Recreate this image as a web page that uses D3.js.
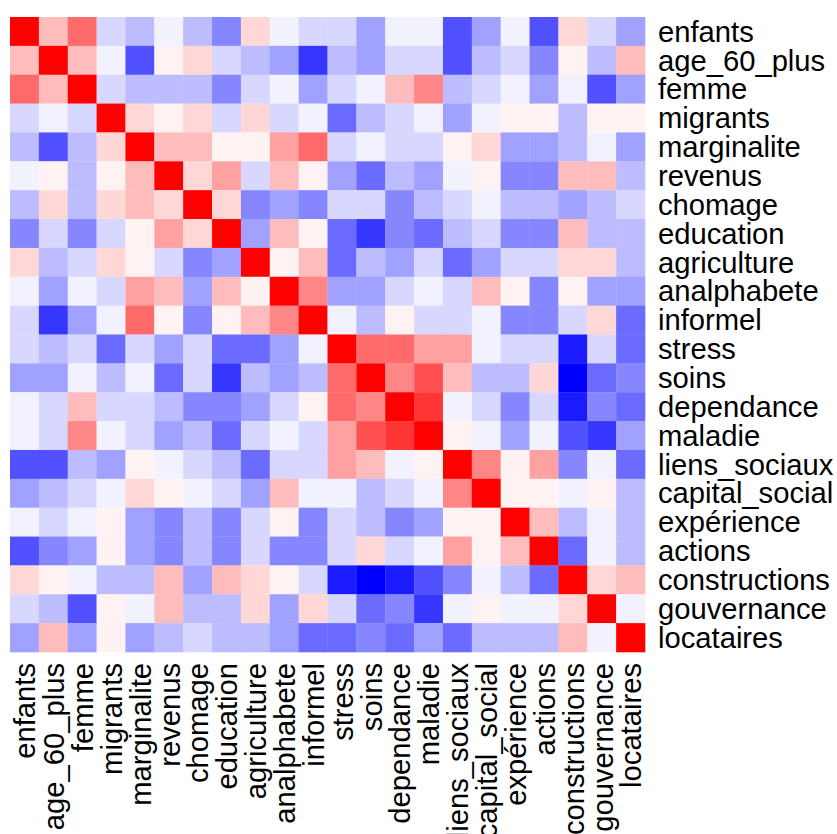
<!DOCTYPE html>
<html>
<head>
<meta charset="utf-8">
<script src="https://cdn.jsdelivr.net/npm/d3@7"></script>
<style>
  html, body { margin: 0; padding: 0; background: #fff; }
  svg { display: block; }
  .tick text { font-family: "Liberation Sans", Arial, sans-serif; fill: #000; }
</style>
</head>
<body>
<div id="chart"></div>
<script>
const variables = ["enfants","age_60_plus","femme","migrants","marginalite","revenus","chomage",
  "education","agriculture","analphabete","informel","stress","soins","dependance","maladie",
  "liens_sociaux","capital_social","expérience","actions","constructions","gouvernance","locataires"];

const corr = [
  [1, .25, .55, -.15, -.25, -.05, -.25, -.45, .15, -.05, -.15, -.15, -.35, -.05, -.05, -.65, -.35, -.05, -.65, .15, -.15, -.35],
  [.25, 1, .25, -.05, -.65, .05, .15, -.15, -.25, -.35, -.75, -.25, -.35, -.15, -.15, -.65, -.25, -.15, -.45, .05, -.25, .25],
  [.55, .25, 1, -.15, -.25, -.25, -.25, -.45, -.15, -.05, -.35, -.15, -.05, .25, .45, -.25, -.15, -.05, -.35, -.05, -.65, -.35],
  [-.15, -.05, -.15, 1, .15, .05, .15, -.15, .15, -.15, -.05, -.55, -.25, -.15, -.05, -.35, -.05, .05, .05, -.25, .05, .05],
  [-.25, -.65, -.25, .15, 1, .25, .25, .05, .05, .35, .55, -.15, -.05, -.15, -.15, .05, .15, -.35, -.35, -.25, -.05, -.35],
  [-.05, .05, -.25, .05, .25, 1, .15, .35, -.15, .25, .05, -.35, -.55, -.25, -.35, -.05, .05, -.45, -.45, .25, .25, -.25],
  [-.25, .15, -.25, .15, .25, .15, 1, .15, -.45, -.35, -.45, -.15, -.15, -.45, -.25, -.15, -.05, -.25, -.25, -.35, -.25, -.15],
  [-.45, -.15, -.45, -.15, .05, .35, .15, 1, -.35, .25, .05, -.55, -.75, -.45, -.55, -.25, -.15, -.45, -.45, .25, -.25, -.25],
  [.15, -.25, -.15, .15, .05, -.15, -.45, -.35, 1, .05, .25, -.55, -.25, -.35, -.15, -.55, -.35, -.15, -.15, .15, .15, -.25],
  [-.05, -.35, -.05, -.15, .35, .25, -.35, .25, .05, 1, .45, -.35, -.35, -.15, -.05, -.15, .25, .05, -.45, .05, -.35, -.35],
  [-.15, -.75, -.35, -.05, .55, .05, -.45, .05, .25, .45, 1, -.05, -.25, .05, -.15, -.15, -.05, -.45, -.45, -.15, .15, -.55],
  [-.15, -.25, -.15, -.55, -.15, -.35, -.15, -.55, -.55, -.35, -.05, 1, .55, .55, .35, .35, -.05, -.15, -.15, -.85, -.15, -.55],
  [-.35, -.35, -.05, -.25, -.05, -.55, -.15, -.75, -.25, -.35, -.25, .55, 1, .45, .65, .25, -.25, -.25, .15, -.95, -.55, -.45],
  [-.05, -.15, .25, -.15, -.15, -.25, -.45, -.45, -.35, -.15, .05, .55, .45, 1, .75, -.05, -.15, -.45, -.15, -.85, -.45, -.55],
  [-.05, -.15, .45, -.05, -.15, -.35, -.25, -.55, -.15, -.05, -.15, .35, .65, .75, 1, .05, -.05, -.35, -.05, -.65, -.75, -.35],
  [-.65, -.65, -.25, -.35, .05, -.05, -.15, -.25, -.55, -.15, -.15, .35, .25, -.05, .05, 1, .45, .05, .35, -.45, -.05, -.55],
  [-.35, -.25, -.15, -.05, .15, .05, -.05, -.15, -.35, .25, -.05, -.05, -.25, -.15, -.05, .45, 1, .05, .05, -.05, .05, -.25],
  [-.05, -.15, -.05, .05, -.35, -.45, -.25, -.45, -.15, .05, -.45, -.15, -.25, -.45, -.35, .05, .05, 1, .25, -.25, -.05, -.25],
  [-.65, -.45, -.35, .05, -.35, -.45, -.25, -.45, -.15, -.45, -.45, -.15, .15, -.15, -.05, .35, .05, .25, 1, -.55, -.05, -.25],
  [.15, .05, -.05, -.25, -.25, .25, -.35, .25, .15, .05, -.15, -.85, -.95, -.85, -.65, -.45, -.05, -.25, -.55, 1, .15, .25],
  [-.15, -.25, -.65, .05, -.05, .25, -.25, -.25, .15, -.35, .15, -.15, -.55, -.45, -.75, -.05, .05, -.05, -.05, .15, 1, -.05],
  [-.35, .25, -.35, .05, -.35, -.25, -.15, -.25, -.25, -.35, -.55, -.55, -.45, -.55, -.35, -.55, -.25, -.25, -.25, .25, -.05, 1]
];

const W = 837, H = 834;
const svg = d3.select("#chart").append("svg").attr("width", W).attr("height", H);

const x = d3.scaleBand().domain(variables).range([10, 645]).padding(0);
const y = d3.scaleBand().domain(variables).range([17, 652]).padding(0);

const interp = d3.piecewise(d3.interpolateRgb, ["#0000ff", "#ffffff", "#ff0000"]);
const palette = d3.range(20).map(i => d3.rgb(interp(i / 19)).formatHex());
const color = d3.scaleQuantize().domain([-1, 1]).range(palette);

const cells = [];
corr.forEach((row, i) => row.forEach((v, j) => cells.push({ r: variables[i], c: variables[j], v })));

svg.append("g").selectAll("rect").data(cells).join("rect")
  .attr("x", d => x(d.c))
  .attr("y", d => y(d.r))
  .attr("width", x.bandwidth() + 0.3)
  .attr("height", y.bandwidth() + 0.3)
  .attr("fill", d => color(Math.max(-1, Math.min(0.9999, d.v))));

const fs = "29.2px";

const ay = svg.append("g").attr("transform", "translate(645,0)")
  .call(d3.axisRight(y).tickSize(0).tickPadding(13));
ay.select(".domain").remove();
ay.selectAll("text").style("font-size", fs).attr("dy", "0.35em");

const ax = svg.append("g").attr("transform", "translate(0,652)")
  .call(d3.axisBottom(x).tickSize(0));
ax.select(".domain").remove();
ax.selectAll("text")
  .style("font-size", fs)
  .attr("transform", "rotate(-90)")
  .attr("x", -11)
  .attr("y", 0)
  .attr("dy", "0.37em")
  .style("text-anchor", "end");
</script>
</body>
</html>
